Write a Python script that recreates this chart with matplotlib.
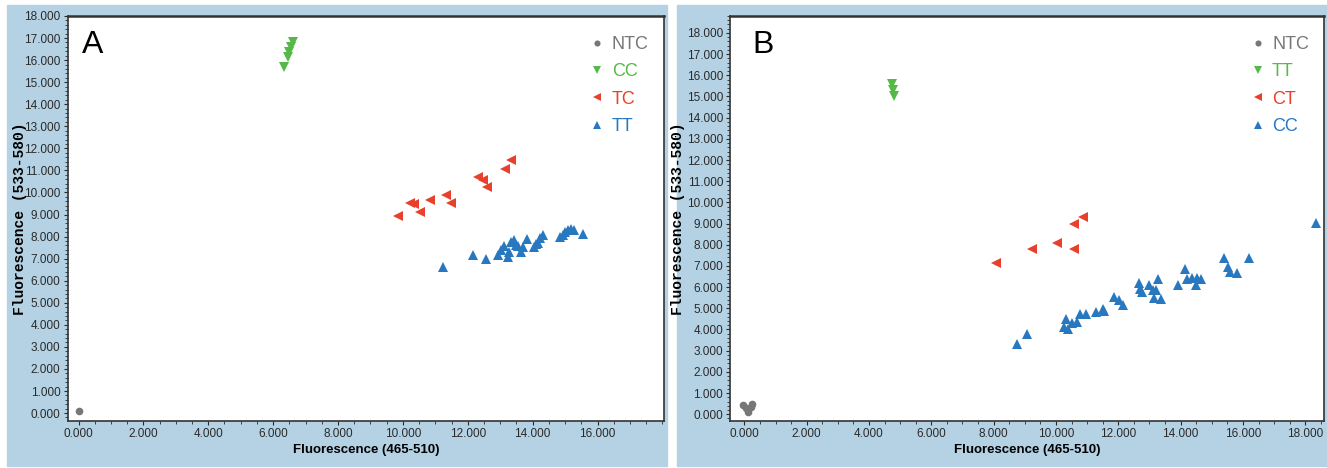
import numpy as np
import matplotlib
matplotlib.use("Agg")
import matplotlib.pyplot as plt
from matplotlib.patches import Rectangle
from matplotlib.ticker import MultipleLocator, FormatStrFormatter

# --- data (fluorescence values in thousands) ---
# Panel A
a_ntc_x = [0.0]
a_ntc_y = [0.1]
a_cc_x = [6.33, 6.45, 6.50, 6.56, 6.62]
a_cc_y = [15.70, 16.15, 16.35, 16.60, 16.80]
a_tc_x = [9.84, 10.22, 10.35, 10.54, 10.83, 11.33, 11.48, 12.31, 12.46, 12.58, 13.16, 13.32]
a_tc_y = [8.93, 9.54, 9.47, 9.13, 9.66, 9.90, 9.53, 10.71, 10.58, 10.26, 11.05, 11.46]
a_tt_x = [11.23, 12.16, 12.56, 12.93, 13.02, 13.12, 13.24, 13.27, 13.33, 13.43, 13.49, 13.55,
          13.64, 13.70, 13.83, 14.04, 14.10, 14.17, 14.23, 14.31, 14.85, 14.94, 15.00, 15.09,
          15.19, 15.28, 15.56]
a_tt_y = [6.64, 7.16, 6.98, 7.16, 7.37, 7.57, 7.09, 7.30, 7.75, 7.84, 7.62, 7.57,
          7.28, 7.52, 7.91, 7.52, 7.66, 7.71, 7.93, 8.09, 7.96, 8.09, 8.20, 8.30,
          8.36, 8.30, 8.11]

# Panel B
b_ntc_x = [-0.05, 0.05, 0.12, 0.20, 0.25]
b_ntc_y = [0.45, 0.30, 0.12, 0.35, 0.50]
b_tt_x = [4.75, 4.78, 4.80]
b_tt_y = [15.60, 15.30, 15.00]
b_ct_x = [8.09, 9.24, 10.02, 10.59, 10.59, 10.87]
b_ct_y = [7.16, 7.78, 8.10, 7.78, 9.00, 9.31]
b_cc_x = [8.76, 9.06, 10.26, 10.32, 10.37, 10.51, 10.66, 10.77, 10.96, 11.28, 11.50, 11.55,
          11.87, 12.03, 12.16, 12.65, 12.68, 12.76, 12.97, 13.10, 13.13, 13.21, 13.26, 13.37,
          13.91, 14.14, 14.20, 14.37, 14.48, 14.52, 14.66, 15.38, 15.51, 15.59, 15.81, 16.18,
          18.35]
b_cc_y = [3.33, 3.77, 4.12, 4.51, 4.04, 4.31, 4.35, 4.75, 4.72, 4.83, 4.99, 4.87,
          5.53, 5.38, 5.14, 6.19, 5.93, 5.77, 6.08, 5.88, 5.50, 5.85, 6.40, 5.46,
          6.08, 6.87, 6.37, 6.45, 6.08, 6.45, 6.40, 7.39, 6.95, 6.71, 6.67, 7.39,
          9.02]

GREY = '#777777'
GREEN = '#55b948'
RED = '#e8402c'
BLUE = '#2878c0'
PANEL_BG = '#b4d2e4'

SANS = ['Liberation Sans', 'DejaVu Sans']
MONO = ['Liberation Mono', 'DejaVu Sans Mono']

fig = plt.figure(figsize=(13.27, 4.68), dpi=100)

# blue panel backgrounds
for x0, w in [(7, 660), (677, 650)]:
    fig.patches.append(Rectangle((x0 / 1327, 2 / 468), w / 1327, 461 / 468,
                                 transform=fig.transFigure, color=PANEL_BG, zorder=-1))


def setup(ax, xmin, xmax, ymin, ymax, xticks_max, ylab_x):
    ax.set_xlim(xmin, xmax)
    ax.set_ylim(ymin, ymax)
    ax.xaxis.set_minor_locator(MultipleLocator(0.5))
    ax.yaxis.set_major_locator(MultipleLocator(1))
    ax.yaxis.set_minor_locator(MultipleLocator(0.2))
    ax.xaxis.set_major_formatter(FormatStrFormatter('%.3f'))
    ax.yaxis.set_major_formatter(FormatStrFormatter('%.3f'))
    ax.set_xticks(np.arange(0, xticks_max + 0.1, 2))
    ax.tick_params(which='major', direction='out', length=3, width=0.8, pad=2,
                   labelsize=8.5, colors='#2a2a2a')
    ax.tick_params(which='minor', direction='out', length=2, width=0.6, colors='#2a2a2a')
    for lab in ax.get_xticklabels() + ax.get_yticklabels():
        lab.set_family(SANS)
    for s in ax.spines.values():
        s.set_color('#333333')
        s.set_linewidth(1.2)
    ax.spines['top'].set_linewidth(1.8)
    ax.set_xlabel('Fluorescence (465-510)', family=SANS, fontsize=9.5,
                  fontweight='bold', labelpad=3)
    ax.set_ylabel('Fluorescence (533-580)', family=MONO, fontsize=10.5,
                  fontweight='bold')
    ax.yaxis.set_label_coords(ylab_x, 0.5)


def draw(ax, groups, labels):
    for (xs, ys, marker, color, ms), lab in zip(groups, labels):
        ax.plot(xs, ys, linestyle='none', marker=marker, color=color,
                markersize=ms, markeredgewidth=0, label=lab)
    leg = ax.legend(loc='upper left', bbox_to_anchor=(0.867, 0.968), frameon=False,
                    prop={'family': SANS, 'size': 13}, handlelength=0.6,
                    handletextpad=0.5, labelspacing=0.57, markerscale=0.8,
                    borderaxespad=0)
    for txt, (_, _, _, color, _) in zip(leg.get_texts(), groups):
        txt.set_color(color)


# Panel A
axA = fig.add_axes([67.5 / 1327, 47 / 468, 596.5 / 1327, 405 / 468])
setup(axA, -0.34, 18.05, -0.36, 18.0, 16, -0.068)
draw(axA, [(a_ntc_x, a_ntc_y, 'o', GREY, 5.5),
           (a_cc_x, a_cc_y, 'v', GREEN, 7),
           (a_tc_x, a_tc_y, '<', RED, 7),
           (a_tt_x, a_tt_y, '^', BLUE, 7)],
     ['NTC', 'CC', 'TC', 'TT'])
axA.text(0.025, 0.965, 'A', transform=axA.transAxes, fontsize=23,
         family=SANS, va='top', ha='left')

# Panel B
axB = fig.add_axes([730 / 1327, 47 / 468, 594 / 1327, 405 / 468])
setup(axB, -0.46, 18.6, -0.32, 18.8, 18, -0.076)
draw(axB, [(b_ntc_x, b_ntc_y, 'o', GREY, 5.5),
           (b_tt_x, b_tt_y, 'v', GREEN, 7),
           (b_ct_x, b_ct_y, '<', RED, 7),
           (b_cc_x, b_cc_y, '^', BLUE, 7)],
     ['NTC', 'TT', 'CT', 'CC'])
axB.text(0.038, 0.965, 'B', transform=axB.transAxes, fontsize=23,
         family=SANS, va='top', ha='left')

fig.savefig('out.png', dpi=100)
